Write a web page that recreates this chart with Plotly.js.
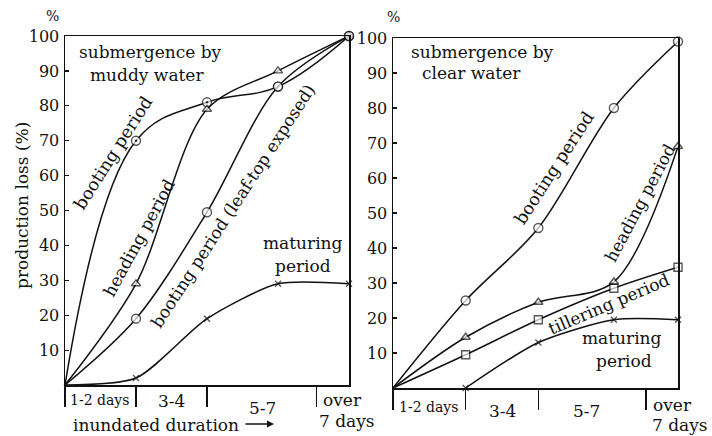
<!DOCTYPE html>
<html>
<head>
<meta charset="utf-8">
<script src="https://cdn.plot.ly/plotly-3.0.1.min.js"></script>
<style>html,body{margin:0;padding:0;background:#fff;}#chart{width:712px;height:436px;}</style>
</head>
<body>
<div id="chart"></div>
<script>
// ---- data ----
const xLeft = [0, 1, 2, 3, 4];
const bootingMuddy = [0, 70, 81, 85.5, 100];
const headingMuddy = [0, 29, 79, 90, 100];
const leafTopMuddy = [0, 19, 49.5, 85.5, 100];
const maturingMuddy = [0, 2, 19, 29, 29];

const xRight = [0, 1.02, 2.04, 3.1, 4];
const bootingClear = [0, 25, 45.7, 80, 99];
const headingClear = [0, 14.5, 24.5, 30.3, 69];
const tilleringClear = [0, 9.5, 19.5, 28.5, 34.5];
const xRightMaturing = [1.02, 2.04, 3.1, 4];
const maturingClear = [0, 13, 19.5, 19.5];

const yTicks = [10, 20, 30, 40, 50, 60, 70, 80, 90, 100];
const durationLabels = ["1-2 days", "3-4", "5-7", "over", "7 days"];
const leftSeparators = [0, 1, 2, 3.54];
const rightSeparators = [0, 1.02, 2.04, 3.55];

// ---- styling ----
const INK = '#111';
const FONT = 'DejaVu Serif, Liberation Serif, serif';
const W = 712, H = 436;
const px = v => v / W;
const py = v => 1 - v / H;

function sizes(n, s, first) { const a = []; for (let i = 0; i < n; i++) a.push(i === 0 && !first ? 0 : s); return a; }

function series(x, y, symbol, size, xa, ya, opts) {
  opts = opts || {};
  return {
    x: x, y: y, xaxis: xa, yaxis: ya, type: 'scatter', mode: 'lines+markers',
    line: {color: INK, width: 1.5, shape: 'spline', smoothing: opts.smooth || 0.9},
    marker: {symbol: symbol, size: sizes(x.length, size, opts.first), color: opts.fill || '#fff',
             line: {color: INK, width: 1.4}},
    cliponaxis: false, showlegend: false, hoverinfo: 'skip'
  };
}

const traces = [
  series(xLeft, bootingMuddy, 'circle-dot', 9, 'x', 'y', {smooth: 1.1}),
  series(xLeft, headingMuddy, 'triangle-up', 8, 'x', 'y'),
  series(xLeft, leafTopMuddy, 'circle', 9, 'x', 'y'),
  series(xLeft, maturingMuddy, 'x-thin', 6, 'x', 'y', {fill: INK, smooth: 0.7}),
  series(xRight, bootingClear, 'circle', 9, 'x2', 'y2'),
  series(xRight, headingClear, 'triangle-up', 8, 'x2', 'y2'),
  series(xRight, tilleringClear, 'square', 8, 'x2', 'y2'),
  series(xRightMaturing, maturingClear, 'x-thin', 6, 'x2', 'y2', {fill: INK, first: true, smooth: 0.7})
];

function xAxis(domain, seps, anchor) {
  return {domain: domain, range: [0, 4], anchor: anchor, showgrid: false, zeroline: false,
    showline: true, mirror: true, linecolor: INK, linewidth: 1.5,
    tickmode: 'array', tickvals: seps, ticks: 'outside', ticklen: 20, tickwidth: 1.3, tickcolor: INK,
    showticklabels: false, fixedrange: true};
}
function yAxis(domain, anchor) {
  return {domain: domain, range: [0, 100], anchor: anchor, showgrid: false, zeroline: false,
    showline: true, mirror: true, linecolor: INK, linewidth: 1.5,
    tickmode: 'array', tickvals: yTicks, ticks: 'inside', ticklen: 4, tickwidth: 1.2, tickcolor: INK,
    tickfont: {family: FONT, size: 16, color: INK}, ticklabelstandoff: 1, fixedrange: true};
}

function note(text, x, y, size, angle, extra) {
  return Object.assign({text: text, xref: 'paper', yref: 'paper', x: px(x), y: py(y),
    xanchor: 'center', yanchor: 'middle', showarrow: false, textangle: angle || 0,
    font: {family: FONT, size: size, color: INK}}, extra || {});
}

const annotations = [
  note('production loss (%)', 22, 206, 17, -90),
  note('%', 52, 16, 14, 0),
  note('%', 393, 17, 14, 0),
  // left panel texts
  note('submergence by', 150, 52, 17),
  note('muddy water', 147, 75, 17),
  note('booting period', 113, 153, 17.5, -57.5),
  note('heading period', 139, 238, 17, -61.5),
  note('booting period (leaf-top exposed)', 233, 206, 17, -57),
  note('maturing', 303, 243, 17),
  note('period', 303, 266, 17),
  // right panel texts
  note('submergence by', 482, 52, 17),
  note('clear water', 471, 73, 17),
  note('booting period', 554, 168, 17.5, -57),
  note('heading period', 640, 203, 17, -62),
  note('tillering period', 609, 304, 17, -23),
  note('maturing', 622, 338, 17),
  note('period', 624, 361, 17),
  // x category labels, left
  note(durationLabels[0], 99, 400, 14),
  note(durationLabels[1], 171, 401, 17),
  note(durationLabels[2], 262, 408, 17),
  note(durationLabels[3], 342, 400, 17),
  note(durationLabels[4], 347, 421, 17),
  // x category labels, right
  note(durationLabels[0], 429, 407, 14),
  note(durationLabels[1], 502, 411, 17),
  note(durationLabels[2], 586, 411, 17),
  note(durationLabels[3], 672, 405, 17),
  note(durationLabels[4], 680, 425, 17),
  // axis title
  note('inundated duration', 156, 425, 17),
  {text: '', xref: 'paper', yref: 'paper', x: px(274), y: py(424), ax: -30, ay: 0,
   showarrow: true, arrowhead: 2, arrowsize: 1, arrowwidth: 1.4, arrowcolor: INK}
];

const layout = {
  width: W, height: H, margin: {l: 0, r: 0, t: 0, b: 0},
  paper_bgcolor: '#fff', plot_bgcolor: '#fff', showlegend: false,
  xaxis: xAxis([px(65), px(349)], leftSeparators, 'y'),
  yaxis: yAxis([py(385), py(36)], 'x'),
  xaxis2: xAxis([px(393), px(678)], rightSeparators, 'y2'),
  yaxis2: yAxis([py(388), py(38)], 'x2'),
  annotations: annotations
};

Plotly.newPlot('chart', traces, layout, {displayModeBar: false, staticPlot: true});
</script>
</body>
</html>
